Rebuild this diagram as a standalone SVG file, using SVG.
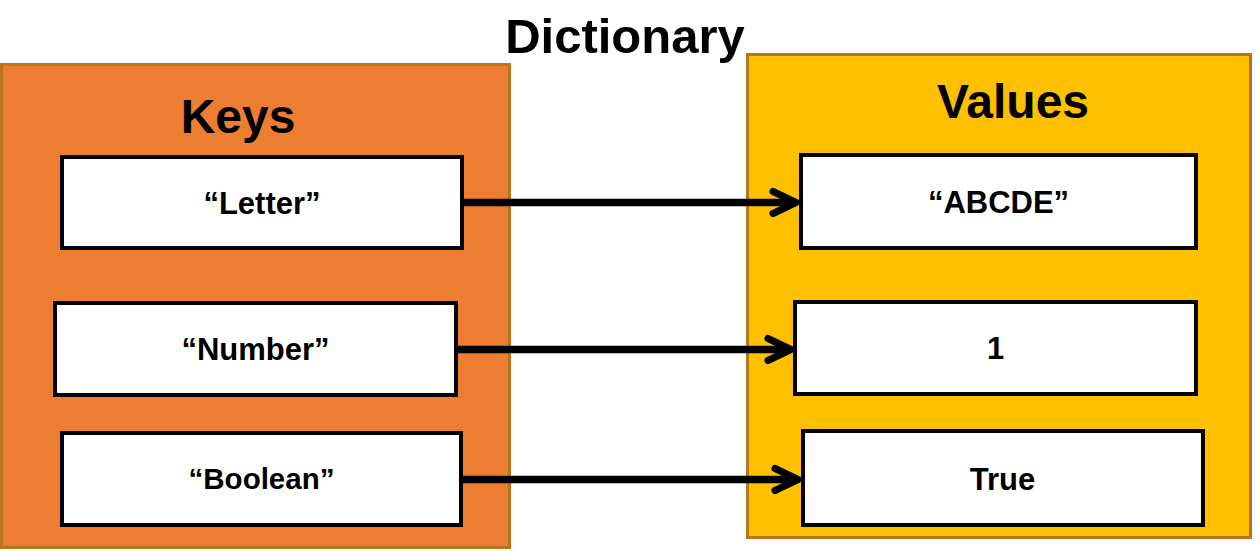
<svg xmlns="http://www.w3.org/2000/svg" width="1259" height="551" viewBox="0 0 1259 551">
  <style>
    .title { font-family: "Liberation Sans", Arial, sans-serif; font-weight: bold; fill: #000; text-anchor: middle; }
    .keys { fill: #ED7D31; stroke: #B5761F; stroke-width: 3; }
    .vals { fill: #FFC000; stroke: #B5761F; stroke-width: 3; }
    .box { fill: #FFFFFF; stroke: #000; stroke-width: 4; }
    .lbl { font-family: "Liberation Sans", Arial, sans-serif; font-weight: bold; font-size: 31px; fill: #000; text-anchor: middle; }
    .lbl.small { font-size: 29.5px; }
    .conn { stroke: #000; stroke-width: 7.5; fill: none; }
  </style>
  <defs>
    <marker id="chev" markerUnits="userSpaceOnUse" viewBox="-32 -18 40 36" markerWidth="40" markerHeight="36" refX="0" refY="0" orient="auto">
      <path d="M-23,-11 L0,0 L-23,11" fill="none" stroke="#000" stroke-width="7" stroke-linecap="round" stroke-linejoin="round"/>
    </marker>
  </defs>
  <rect width="1259" height="551" fill="#FFFFFF"/>

  <text id="title" class="title" x="625" y="53" font-size="49">Dictionary</text>

  <g id="keys-container">
    <rect class="keys" x="1.5" y="64.5" width="508" height="483"/>
    <text class="title" x="238" y="133" font-size="48">Keys</text>
  </g>

  <g id="values-container">
    <rect class="vals" x="747.5" y="54.5" width="503" height="483"/>
    <text class="title" x="1013" y="118" font-size="48">Values</text>
  </g>

  <g id="key-letter">
    <rect class="box" x="62" y="157" width="400" height="91"/>
    <text class="lbl" x="262" y="214">“Letter”</text>
  </g>
  <g id="key-number">
    <rect class="box" x="55" y="303" width="401" height="92"/>
    <text class="lbl" x="255.5" y="360">“Number”</text>
  </g>
  <g id="key-boolean">
    <rect class="box" x="62" y="433" width="399" height="92"/>
    <text class="lbl small" x="261.5" y="489">“Boolean”</text>
  </g>

  <g id="val-abcde">
    <rect class="box" x="801" y="155" width="395" height="93"/>
    <text class="lbl" x="998.5" y="213">“ABCDE”</text>
  </g>
  <g id="val-1">
    <rect class="box" x="795" y="302" width="401" height="92"/>
    <text class="lbl" x="995.5" y="359">1</text>
  </g>
  <g id="val-true">
    <rect class="box" x="803" y="431" width="400" height="94"/>
    <text class="lbl" x="1002.5" y="490">True</text>
  </g>

  <g id="connectors">
    <path class="conn" d="M464,202.5 L796,202.5" marker-end="url(#chev)"/>
    <path class="conn" d="M458,349.5 L791,349.5" marker-end="url(#chev)"/>
    <path class="conn" d="M463,479.5 L798,479.5" marker-end="url(#chev)"/>
  </g>
</svg>
